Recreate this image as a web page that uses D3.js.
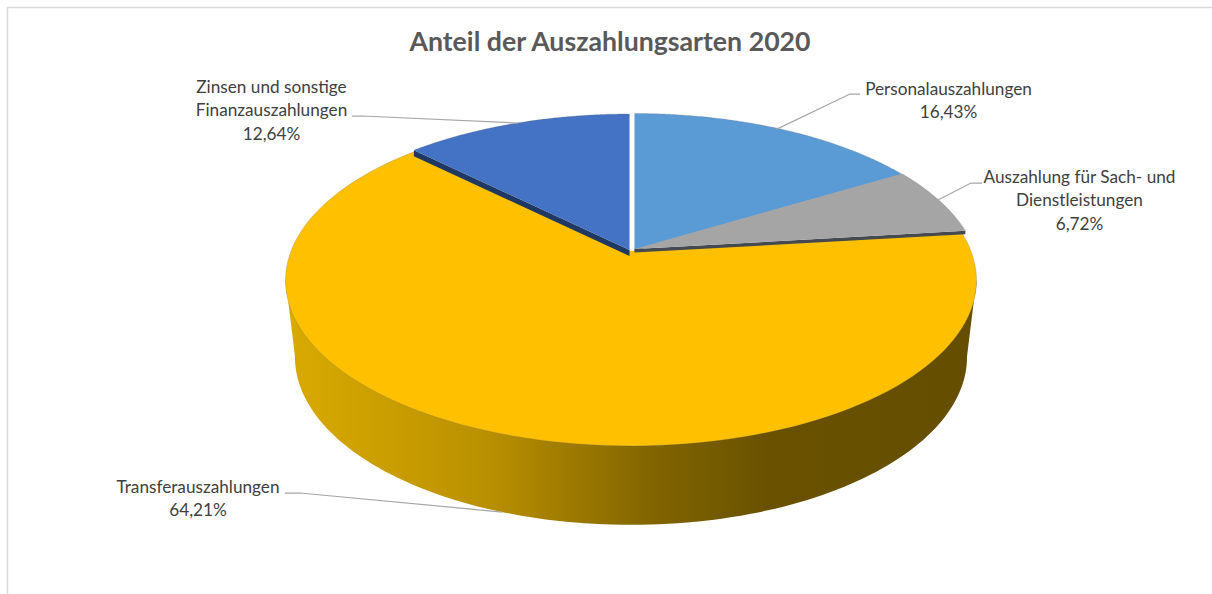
<!DOCTYPE html>
<html>
<head>
<meta charset="utf-8">
<script src="https://cdn.jsdelivr.net/npm/d3@7"></script>
<style>
    body { margin: 0; background: #fff; }
    text { font-family: Lato, "Open Sans", sans-serif; }
</style>
</head>
<body>
<div id="chart"></div>
<script>
const categories = ['Personalauszahlungen', 'Auszahlung für Sach- und Dienstleistungen', 'Transferauszahlungen', 'Zinsen und sonstige Finanzauszahlungen'];
const values = [16.43, 6.72, 64.21, 12.64];
const colors = ['#5b9bd5', '#a5a5a5', '#ffc000', '#4472c4'];
const stripColors = ['#2f6aa0', '#454a50', null, '#1f3864'];
const labelLines = [
    ['Personalauszahlungen'],
    ['Auszahlung für Sach- und', 'Dienstleistungen'],
    ['Transferauszahlungen'],
    ['Zinsen und sonstige', 'Finanzauszahlungen']
];

const width = 1212;
const height = 594;

// perspective of the disc, fitted to the reference
const tip = { x: 631, y: 250 };
const persp = { k: 0.178, a: 340, b: 160.2 };
const rimCentre = { x: 630.5, y: 279.5 };
const wallDrop = 77.5;

// slices are pulled apart a little
const offsets = [[3.5, -0.5], [3.5, -1], [0, 1], [-1.5, 0]];
const stripDepth = [1.5, 3.5, 0, 6];

const labelPos = [
    { x: 948.5, y: 95, from: [860, 94], elbow: [850, 94], depth: 0 },
    { x: 1079.5, y: 183, from: [982, 183], elbow: [971, 183], depth: 0 },
    { x: 198, y: 493, from: [285, 493], elbow: [300, 493], depth: 1 },
    { x: 271.5, y: 93, from: [352, 116], elbow: [362, 116], depth: 0 }
];

const project = (angle, r, z) => {
    const u = r * Math.sin(angle);
    const v = r * Math.cos(angle);
    const w = 1 + persp.k * v;
    const x = tip.x + persp.a * u / w;
    const y = tip.y - persp.b * v / w;
    return [
        rimCentre.x + (x - rimCentre.x) * (1 - 0.0275 * z),
        rimCentre.y + wallDrop * z + (y - rimCentre.y) * (1 + 0.015 * z)
    ];
};

const line = d3.line();
const sample = (a0, a1) => d3.range(0, 1.0001, 1 / 120).map(t => a0 + (a1 - a0) * t);

const pie = d3.pie().sort(null).value(d => d)(values);

const svg = d3.select('#chart')
    .append('svg')
    .attr('width', width)
    .attr('height', height);

svg.append('path')
    .attr('d', `M7.5,${height}V7.5H${width}`)
    .attr('fill', 'none')
    .attr('stroke', '#d9d9d9')
    .attr('stroke-width', 1.5);

svg.append('text')
    .attr('x', 610)
    .attr('y', 51)
    .attr('text-anchor', 'middle')
    .attr('font-weight', 'bold')
    .attr('font-size', 26.7)
    .attr('fill', '#595959')
    .text('Anteil der Auszahlungsarten 2020');

// outer wall of the big slice
const grad = svg.append('defs').append('linearGradient')
    .attr('id', 'wall')
    .attr('gradientUnits', 'userSpaceOnUse')
    .attr('x1', 285).attr('x2', 976).attr('y1', 0).attr('y2', 0);
[[0, '#d9aa00'], [0.16, '#c99d00'], [0.3, '#b88f00'], [0.41, '#9e7b00'], [0.53, '#826500'], [0.7, '#695100'], [1, '#654e00']]
    .forEach(s => grad.append('stop').attr('offset', s[0]).attr('stop-color', s[1]));

// wall silhouette runs between the widest points of both rims
const frontAngles = sample(Math.PI * 0.556, Math.PI * 1.444);
const wallPoints = frontAngles.map(a => project(a, 1, 1))
    .concat(frontAngles.slice().reverse().map(a => project(a, 1, 0)));
svg.append('path')
    .attr('d', line(wallPoints) + 'Z')
    .attr('fill', 'url(#wall)');

const shifted = (pts, i) => pts.map(p => [p[0] + offsets[i][0], p[1] + offsets[i][1]]);

const topPoints = (d, i) => shifted(
    [project(0, 0, 0)].concat(sample(d.startAngle, d.endAngle).map(a => project(a, 1, 0))), i);

// draw order: big slice first, then the raised ones with their cut faces
[2, 3, 0, 1].forEach(i => {
    const d = pie[i];
    if (stripDepth[i]) {
        const edge = i === 3 ? d.startAngle : d.endAngle;
        const a = shifted([project(0, 0, 0), project(edge, 1, 0)], i);
        const drop = stripDepth[i];
        svg.append('path')
            .attr('d', line([a[0], a[1], [a[1][0], a[1][1] + drop], [a[0][0], a[0][1] + drop]]) + 'Z')
            .attr('fill', stripColors[i]);
    }
    svg.append('path')
        .attr('class', 'slice')
        .attr('d', line(topPoints(d, i)) + 'Z')
        .attr('fill', colors[i]);
    svg.append('path')
        .attr('class', 'rim')
        .attr('d', line(shifted(sample(d.startAngle, d.endAngle).map(a => project(a, 1, 0)), i)))
        .attr('fill', 'none')
        .attr('stroke', '#6e6e6e')
        .attr('stroke-opacity', 0.25);
});

// labels and leader lines
pie.forEach((d, i) => {
    const pos = labelPos[i];
    const mid = (d.startAngle + d.endAngle) / 2;
    svg.append('path')
        .attr('d', line([pos.from, pos.elbow, project(mid, 1, pos.depth)]))
        .attr('fill', 'none')
        .attr('stroke', '#a6a6a6')
        .attr('stroke-width', 1.25);

    const label = svg.append('text')
        .attr('text-anchor', 'middle')
        .attr('font-size', 17.2)
        .attr('fill', '#404040');
    labelLines[i].concat(values[i].toFixed(2).replace('.', ',') + '%').forEach((t, j) => {
        label.append('tspan')
            .attr('x', pos.x)
            .attr('y', pos.y + j * 23.3)
            .text(t);
    });
});
</script>
</body>
</html>
